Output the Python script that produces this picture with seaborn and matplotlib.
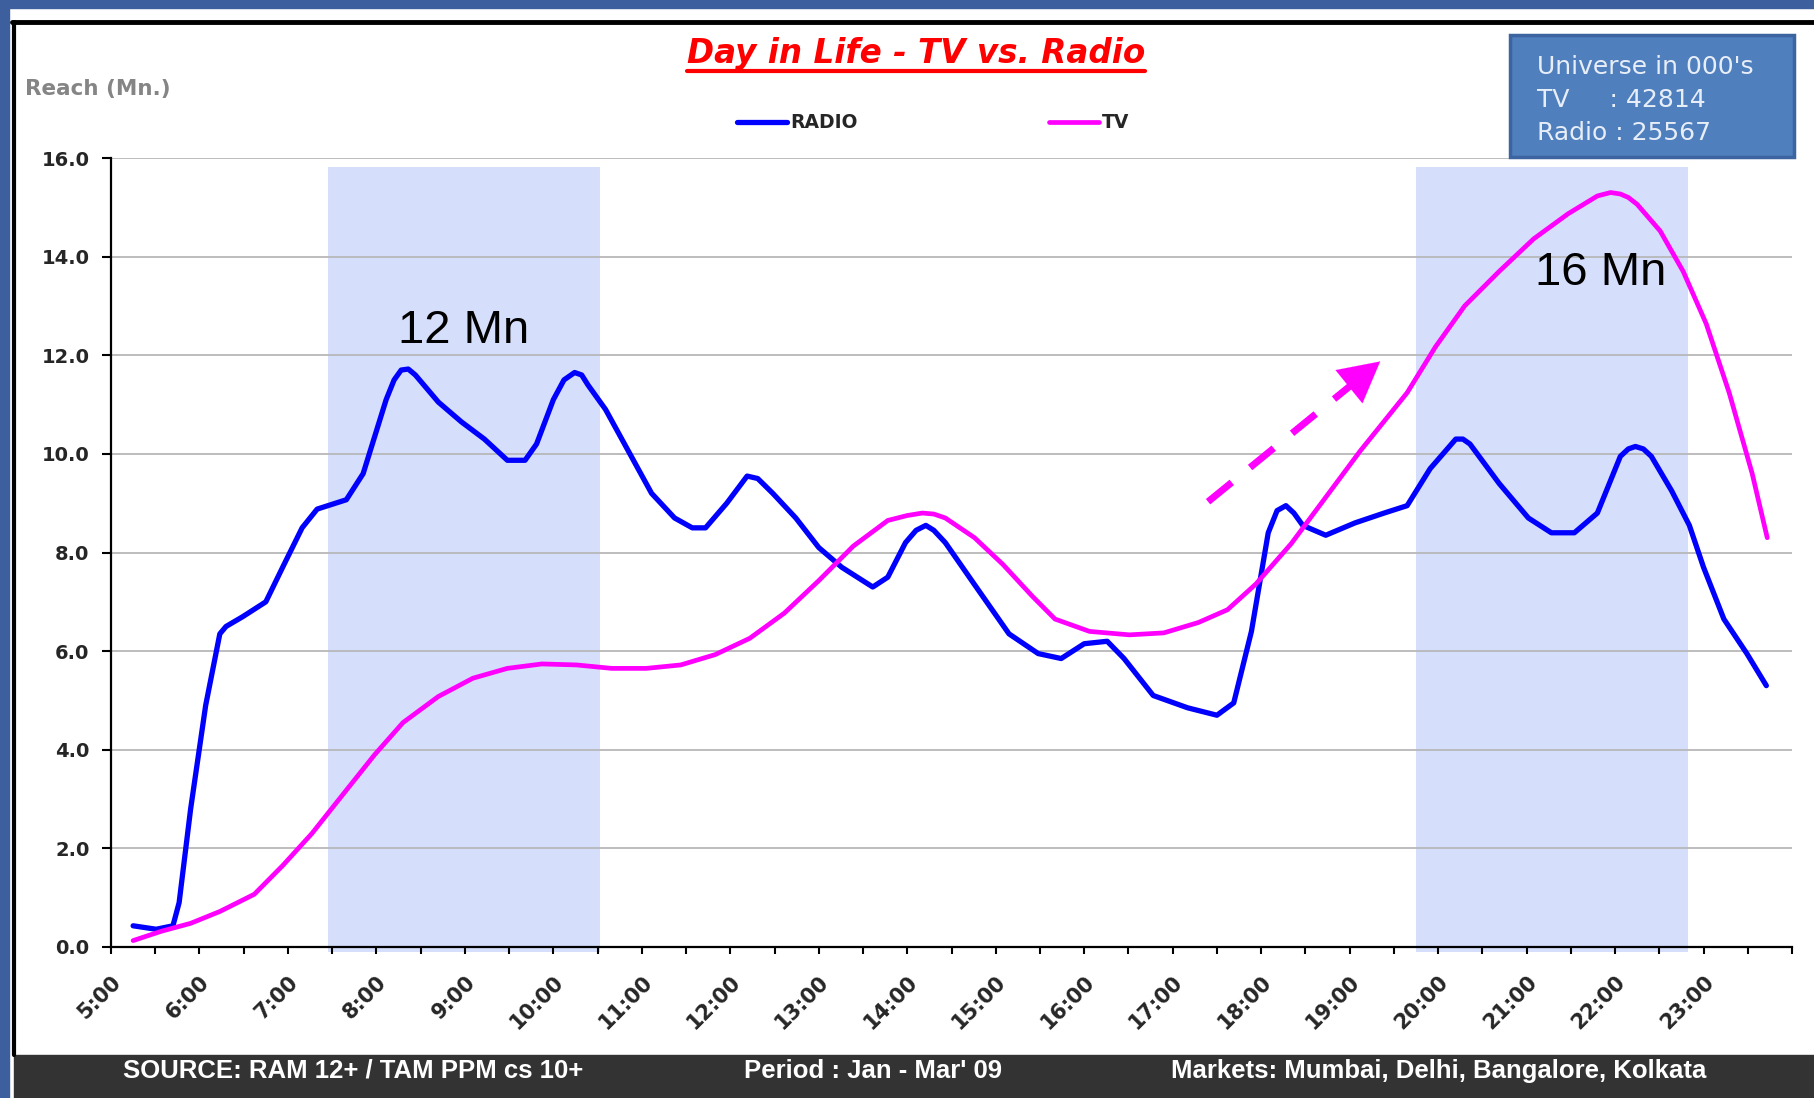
import matplotlib
matplotlib.use('Agg')
import matplotlib.pyplot as plt
import seaborn as sns
import numpy as np
import pandas as pd
from matplotlib.patches import Rectangle
from matplotlib.lines import Line2D
from matplotlib.transforms import ScaledTranslation

# readings (hour of day, reach in Mn)
radio_hours = [5.25, 5.51, 5.70, 5.77, 5.90, 6.07, 6.23, 6.30, 6.49, 6.75, 6.94, 7.16, 7.33,
               7.66, 7.85, 8.11, 8.20, 8.28, 8.36, 8.44, 8.70, 8.96, 9.22, 9.48, 9.68, 9.81,
               10.00, 10.12, 10.24, 10.32, 10.39, 10.59, 10.85, 11.11, 11.37, 11.57, 11.72,
               11.96, 12.19, 12.31, 12.48, 12.74, 13.00, 13.26, 13.61, 13.78, 13.98, 14.10,
               14.21, 14.30, 14.43, 14.76, 15.15, 15.48, 15.74, 16.00, 16.26, 16.45, 16.78,
               17.17, 17.50, 17.69, 17.89, 18.08, 18.18, 18.28, 18.37, 18.47, 18.73, 19.06,
               19.39, 19.65, 19.91, 20.20, 20.28, 20.36, 20.69, 21.02, 21.28, 21.54, 21.80,
               22.06, 22.15, 22.23, 22.32, 22.41, 22.64, 22.84, 23.00, 23.23, 23.49, 23.71]
radio_reach = [0.43, 0.36, 0.43, 0.90, 2.80, 4.90, 6.35, 6.50, 6.70, 7.00, 7.70, 8.50, 8.88,
               9.07, 9.60, 11.10, 11.50, 11.70, 11.72, 11.60, 11.05, 10.65, 10.30, 9.87, 9.87,
               10.20, 11.10, 11.50, 11.65, 11.60, 11.40, 10.90, 10.05, 9.20, 8.70, 8.50, 8.50,
               9.00, 9.55, 9.50, 9.20, 8.70, 8.10, 7.70, 7.30, 7.50, 8.20, 8.45,
               8.55, 8.45, 8.20, 7.35, 6.35, 5.95, 5.85, 6.15, 6.20, 5.85, 5.10,
               4.85, 4.70, 4.95, 6.40, 8.40, 8.85, 8.95, 8.80, 8.55, 8.35, 8.60,
               8.80, 8.95, 9.70, 10.30, 10.30, 10.20, 9.40, 8.70, 8.40, 8.40, 8.80,
               9.95, 10.10, 10.15, 10.10, 9.95, 9.25, 8.55, 7.70, 6.65, 5.95, 5.30]

tv_hours = [5.25, 5.57, 5.90, 6.23, 6.62, 6.94, 7.27, 7.66, 7.98, 8.30, 8.70, 9.09,
            9.48, 9.87, 10.26, 10.66, 11.05, 11.44, 11.83, 12.22, 12.61, 13.00, 13.39,
            13.78, 14.00, 14.17, 14.30, 14.43, 14.76, 15.08, 15.41, 15.67, 16.06, 16.51,
            16.90, 17.29, 17.62, 17.94, 18.34, 18.73, 19.12, 19.65, 19.97, 20.30, 20.69,
            21.08, 21.47, 21.80, 21.95, 22.06, 22.15, 22.25, 22.51, 22.77, 23.03, 23.29,
            23.55, 23.72]
tv_reach = [0.13, 0.32, 0.48, 0.72, 1.07, 1.65, 2.30, 3.18, 3.90, 4.55, 5.08, 5.45,
            5.65, 5.74, 5.72, 5.65, 5.65, 5.72, 5.93, 6.26, 6.77, 7.43, 8.13,
            8.65, 8.75, 8.80, 8.78, 8.70, 8.30, 7.76, 7.12, 6.65, 6.40, 6.33,
            6.37, 6.58, 6.84, 7.36, 8.18, 9.12, 10.06, 11.24, 12.17, 13.00, 13.70,
            14.36, 14.87, 15.23, 15.30, 15.27, 15.20, 15.06, 14.52, 13.70, 12.64, 11.24,
            9.60, 8.30]

hour_labels = [f"{h}:00" for h in range(5, 24)]
y_ticks = [0, 2, 4, 6, 8, 10, 12, 14, 16]
peak_windows = [(7.45, 10.53), (19.75, 22.83)]
peak_notes = [("12 Mn", 8.99, 12.49), ("16 Mn", 21.84, 13.67)]
trend_tail = (17.40, 9.03)
trend_tip = (19.37, 11.91)
universe_text = "Universe in 000's\nTV     : 42814\nRadio : 25567"
footer_texts = ["SOURCE: RAM 12+ / TAM PPM cs 10+", "Period : Jan - Mar' 09",
                "Markets: Mumbai, Delhi, Bangalore, Kolkata"]

sns.set_style('white')
plt.rcParams['font.family'] = ['DejaVu Sans']

W, H = 1814, 1098
fig = plt.figure(figsize=(W / 100, H / 100), dpi=100)
fig.patch.set_facecolor('white')

ax = fig.add_axes([111 / W, 1 - 947 / H, (1792 - 111) / W, (947 - 158) / H])
ax.set_facecolor('white')

# frame decorations of the slide
fig.patches.append(Rectangle((0, 1 - 8 / H), 1, 8 / H, transform=fig.transFigure,
                             color='#3d5f9e', zorder=0))
fig.patches.append(Rectangle((0, 0), 9 / W, 1, transform=fig.transFigure,
                             color='#3d5f9e', zorder=0))
fig.patches.append(Rectangle((14 / W, 0), 1 - 14 / W, 43 / H, transform=fig.transFigure,
                             color='#333333', zorder=0))
fig.lines.append(Line2D([12 / W, 1], [1 - 22 / H, 1 - 22 / H], transform=fig.transFigure,
                        color='black', lw=3.5))
fig.lines.append(Line2D([14 / W, 14 / W], [43 / H, 1 - 22 / H], transform=fig.transFigure,
                        color='black', lw=3))

# shaded peak windows
for x0, x1 in peak_windows:
    ax.axvspan(x0, x1, ymin=-0.006, ymax=0.989, color='#d5defa', lw=0, zorder=0.3,
               clip_on=False)

sns.lineplot(x=radio_hours, y=radio_reach, ax=ax, color='#0000ff', lw=3.8,
             label='RADIO', sort=False)
sns.lineplot(x=tv_hours, y=tv_reach, ax=ax, color='#ff00ff', lw=3.4,
             label='TV', sort=False)
for ln in ax.lines:
    ln.set_solid_joinstyle('round')
    ln.set_solid_capstyle('round')
handles, labels = ax.get_legend_handles_labels()
if ax.get_legend() is not None:
    ax.get_legend().remove()

ax.set_xlim(5, 24)
ax.set_ylim(0, 16)
ax.set_xticks(range(5, 24))
ax.set_xticklabels(hour_labels, rotation=45, ha='right', va='top',
                   rotation_mode='anchor', fontsize=15, fontweight='bold')
ax.set_xticks([h + 0.5 for h in range(5, 24)] + [24], minor=True)
ax.set_yticks(y_ticks)
ax.set_yticklabels([f"{v:.1f}" for v in y_ticks], fontsize=14, fontweight='bold')
for lab in ax.get_xticklabels():
    lab.set_transform(lab.get_transform() + ScaledTranslation(8 / 100, 0, fig.dpi_scale_trans))

ax.tick_params(axis='x', which='both', direction='out', length=5, width=1.5,
               color='black', bottom=True, pad=13)
ax.tick_params(axis='y', direction='out', length=6.5, width=1.5, color='black',
               left=True, pad=9)
ax.yaxis.grid(True, color='#b8b8b8', lw=1.3, zorder=0.5)
ax.set_axisbelow(True)
for s in ['top', 'right']:
    ax.spines[s].set_visible(False)
for s in ['left', 'bottom']:
    ax.spines[s].set_color('black')
    ax.spines[s].set_linewidth(1.6)
ax.set_xlabel('')
ax.set_ylabel('')

for txt, x, y in peak_notes:
    ax.text(x, y, txt, ha='center', va='center', fontsize=34,
            family='Liberation Sans', color='black', zorder=4)

# dashed trend arrow
bx = trend_tail[0] + 0.86 * (trend_tip[0] - trend_tail[0])
by = trend_tail[1] + 0.86 * (trend_tip[1] - trend_tail[1])
ax.plot([trend_tail[0], bx], [trend_tail[1], by], color='#ff00ff', lw=5,
        dashes=(4.4, 3.4), solid_capstyle='butt', zorder=4)
ax.annotate('', xy=trend_tip, xytext=(bx - 0.05, by - 0.07),
            arrowprops=dict(arrowstyle='-|>,head_length=0.45,head_width=0.24',
                            color='#ff00ff', lw=0.1, mutation_scale=64), zorder=4)

# title with underline
title = fig.text(916 / W, 1 - 54 / H, 'Day in Life - TV vs. Radio', ha='center',
                 va='center', color='red', fontsize=23.5, fontweight='bold',
                 fontstyle='italic')
fig.canvas.draw()
bb = title.get_window_extent().transformed(fig.transFigure.inverted())
fig.lines.append(Line2D([bb.x0, bb.x1], [1 - 71 / H, 1 - 71 / H], transform=fig.transFigure,
                        color='red', lw=3))

fig.text(25 / W, 1 - 89 / H, 'Reach (Mn.)', ha='left', va='center', color='#858585',
         fontsize=15.5, fontweight='bold')

fig.legend(handles, labels, loc='center', bbox_to_anchor=(933 / W, 1 - 123 / H),
           ncol=2, frameon=False, handlelength=2.7, handletextpad=0.15,
           columnspacing=10.2, prop={'weight': 'bold', 'size': 13.5})

# universe box
fig.patches.append(Rectangle((1510 / W, 1 - 157 / H), 284 / W, 122 / H,
                             transform=fig.transFigure, facecolor='#4f7fbd',
                             edgecolor='#3b64a0', lw=2.5, zorder=5))
fig.text(1537 / W, 1 - 100 / H, universe_text, ha='left', va='center',
         color='#e8eef8', fontsize=18, linespacing=1.45, zorder=6)

# footer
for txt, cx in zip(footer_texts, [353, 873, 1439]):
    fig.text(cx / W, 1 - 1071 / H, txt, ha='center', va='center', color='white',
             fontsize=18.5, fontweight='bold', family='Liberation Sans')

fig.savefig('out.png', dpi=100)
